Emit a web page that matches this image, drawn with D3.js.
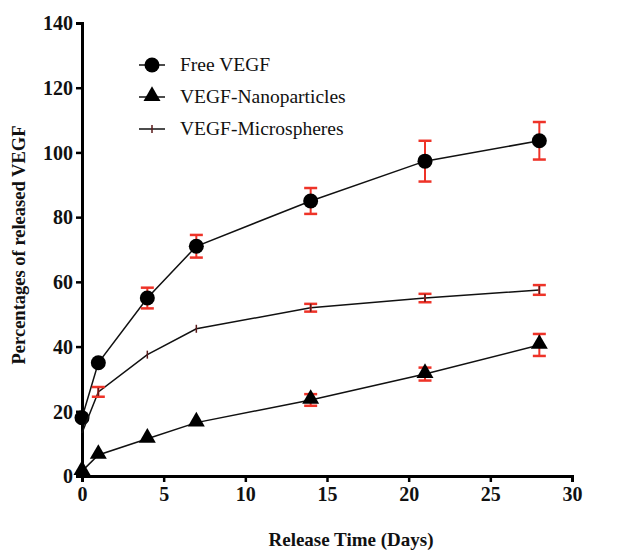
<!DOCTYPE html>
<html>
<head>
<meta charset="utf-8">
<script src="https://cdn.jsdelivr.net/npm/d3@7"></script>
<style>
  body { margin: 0; background: #fff; }
  svg text { font-family: "Liberation Serif", "DejaVu Serif", serif; }
</style>
</head>
<body>
<div id="main"></div>
<script>
// release days
var days = [0, 1, 4, 7, 14, 21, 28];

// Free VEGF
var freeMean = [18, 35, 55, 71, 85, 97.3, 103.6];
var freeErr  = [0, 0, 3.2, 3.5, 4, 6.3, 5.8];

// VEGF-Nanoparticles
var nanoMean = [1.5, 6.5, 11.5, 16.5, 23.5, 31.5, 40.5];
var nanoErr  = [0, 0, 0, 0, 1.8, 2, 3.4];

// VEGF-Microspheres
var microMean = [13.3, 26, 37.5, 45.5, 52, 55, 57.5];
var microErr  = [0, 1.5, 0, 0, 1.2, 1.3, 1.5];

var seriesNames = ["Free VEGF", "VEGF-Nanoparticles", "VEGF-Microspheres"];
var xTicks = [0, 5, 10, 15, 20, 25, 30];
var yTicks = [0, 20, 40, 60, 80, 100, 120, 140];

var w = 625, h = 550;
var margin = { top: 23, left: 82, right: 53, bottom: 74 };
var serif = "'Liberation Serif', 'DejaVu Serif', serif";

var svg = d3.select("#main").append("svg")
	.attr("width", w)
	.attr("height", h)

var x = d3.scaleLinear().domain([0, 30]).range([margin.left, w - margin.right])
var y = d3.scaleLinear().domain([0, 140]).range([h - margin.bottom, margin.top])

var series = [
	{ name: seriesNames[0], mean: freeMean, err: freeErr, shape: "circle" },
	{ name: seriesNames[1], mean: nanoMean, err: nanoErr, shape: "triangle" },
	{ name: seriesNames[2], mean: microMean, err: microErr, shape: "tick" }
]

// axes
var xAxis = svg.append("g")
	.attr("transform", "translate(0," + y(0) + ")")
	.call(d3.axisBottom(x).tickValues(xTicks).tickSize(6).tickPadding(5))
var yAxis = svg.append("g")
	.attr("transform", "translate(" + x(0) + ",0)")
	.call(d3.axisLeft(y).tickValues(yTicks).tickSize(6).tickPadding(3))

;[xAxis, yAxis].forEach(function(a) {
	a.attr("font-family", serif).attr("font-size", 20).attr("font-weight", "bold")
	a.select(".domain").attr("stroke", "#000").attr("stroke-width", 3)
	a.selectAll(".tick line").attr("stroke", "#000").attr("stroke-width", 2.5)
	a.selectAll(".tick text")
		.attr("fill", "#111")
		.style("font-family", serif)
		.style("font-weight", "bold")
		.style("font-size", "20px")
})
yAxis.selectAll(".tick text").attr("dy", "0.34em")

// axis titles
svg.append("text")
	.attr("x", 351)
	.attr("y", 546)
	.attr("text-anchor", "middle")
	.style("font-family", serif)
	.style("font-weight", "bold")
	.style("font-size", "19px")
	.attr("fill", "#111")
	.text("Release Time (Days)")

svg.append("text")
	.attr("transform", "translate(25,245) rotate(-90)")
	.attr("text-anchor", "middle")
	.style("font-family", serif)
	.style("font-weight", "bold")
	.style("font-size", "18.5px")
	.attr("fill", "#111")
	.text("Percentages of released VEGF")

var line = d3.line()
	.x(function(d) { return x(d[0]) })
	.y(function(d) { return y(d[1]) })

function drawMarker(g, shape, cx, cy) {
	if (shape === "circle") {
		g.append("circle").attr("cx", cx).attr("cy", cy).attr("r", 7.5).attr("fill", "#000")
	} else if (shape === "triangle") {
		g.append("path")
			.attr("d", d3.symbol().type(d3.symbolTriangle).size(125)())
			.attr("transform", "translate(" + cx + "," + (cy - 1) + ")")
			.attr("fill", "#000")
	} else {
		g.append("line").attr("x1", cx).attr("x2", cx).attr("y1", cy - 4).attr("y2", cy + 4)
			.attr("stroke", "#5a1a1a").attr("stroke-width", 1.5)
	}
}

series.forEach(function(s) {
	var pts = days.map(function(d, i) { return [d, s.mean[i], s.err[i]] })
	var g = svg.append("g")

	g.append("path")
		.datum(pts)
		.attr("d", line)
		.attr("fill", "none")
		.attr("stroke", "#111")
		.attr("stroke-width", 1.5)

	// error bars
	pts.filter(function(p) { return p[2] > 0 }).forEach(function(p) {
		var cx = x(p[0]), y1 = y(p[1] + p[2]), y2 = y(p[1] - p[2])
		g.append("line").attr("x1", cx).attr("x2", cx).attr("y1", y1).attr("y2", y2)
			.attr("stroke", "#ee3328").attr("stroke-width", 2)
		g.append("line").attr("x1", cx - 6.5).attr("x2", cx + 6.5).attr("y1", y1).attr("y2", y1)
			.attr("stroke", "#ee3328").attr("stroke-width", 2.5)
		g.append("line").attr("x1", cx - 6.5).attr("x2", cx + 6.5).attr("y1", y2).attr("y2", y2)
			.attr("stroke", "#ee3328").attr("stroke-width", 2.5)
	})

	pts.forEach(function(p) {
		if (s.shape === "tick" && p[0] === 0) return
		drawMarker(g, s.shape, x(p[0]), y(p[1]))
	})
})

// legend
var legend = svg.append("g")
series.forEach(function(s, i) {
	var ly = 65 + i * 32
	legend.append("line").attr("x1", 139).attr("x2", 165).attr("y1", ly).attr("y2", ly)
		.attr("stroke", "#111").attr("stroke-width", 1.5)
	drawMarker(legend, s.shape, 152, ly)
	legend.append("text")
		.attr("x", 180)
		.attr("y", ly + 6)
		.style("font-family", serif)
		.style("font-size", "19.5px")
		.attr("fill", "#111")
		.text(s.name)
})
</script>
</body>
</html>
